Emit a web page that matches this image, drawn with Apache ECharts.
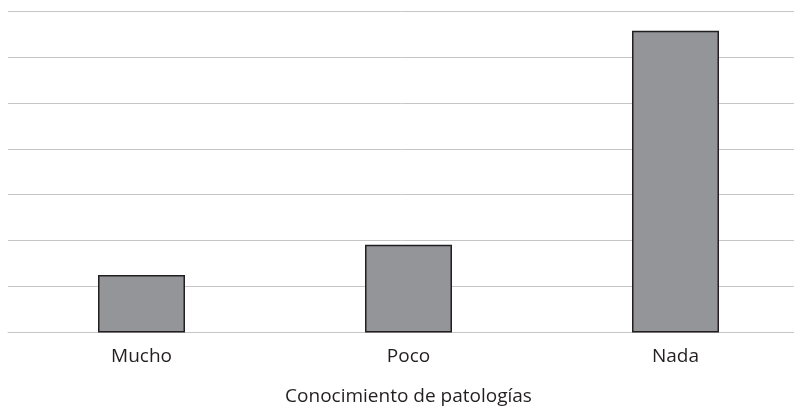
<!DOCTYPE html>
<html>
<head>
<meta charset="utf-8">
<script src="https://cdn.jsdelivr.net/npm/echarts@6/dist/echarts.min.js"></script>
<style>
html,body{margin:0;padding:0;background:#fff;}
#chart{width:794px;height:408px;}
</style>
</head>
<body>
<div id="chart"></div>
<script>
var categories = ['Mucho', 'Poco', 'Nada'];
var values = [12.5, 19.1, 65.7];
var axisTitle = 'Conocimiento de patologías';

var chart = echarts.init(document.getElementById('chart'), null, {renderer: 'canvas'});
chart.setOption({
  animation: false,
  backgroundColor: '#ffffff',
  grid: {left: 8, width: 801, top: 11, bottom: 75.5, containLabel: false, outerBoundsMode: 'none'},
  xAxis: {
    type: 'category',
    data: categories,
    name: axisTitle,
    nameLocation: 'middle',
    nameGap: 55,
    nameTextStyle: {fontFamily: 'Open Sans', fontSize: 19, color: '#231f20'},
    axisLine: {show: true, lineStyle: {color: '#c6c6c6', width: 1}},
    axisTick: {show: false},
    axisLabel: {fontFamily: 'Open Sans', fontSize: 19, color: '#231f20', margin: 15}
  },
  yAxis: {
    type: 'value',
    min: 0,
    max: 70,
    interval: 10,
    axisLabel: {show: false},
    axisLine: {show: false},
    axisTick: {show: false},
    splitLine: {show: true, lineStyle: {color: '#c6c6c6', width: 1}}
  },
  series: [{
    type: 'bar',
    data: values,
    barWidth: 87,
    itemStyle: {color: '#939598', borderColor: '#231f20', borderWidth: 1.5}
  }]
});
</script>
</body>
</html>
